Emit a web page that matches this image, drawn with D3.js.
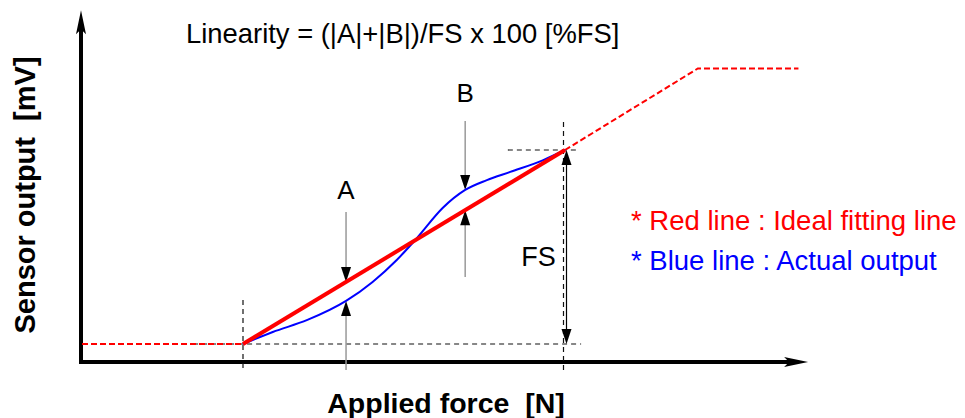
<!DOCTYPE html>
<html>
<head>
<meta charset="utf-8">
<script src="https://cdn.jsdelivr.net/npm/d3@7"></script>
<style>
  body { margin: 0; background: #fff; }
  text { font-family: "Liberation Sans", Arial, sans-serif; white-space: pre; }
</style>
</head>
<body>
<div id="chart"></div>
<script>
// force in arbitrary units, output in mV (FS = 10)
var idealX = [2, 6];
var idealY = [0, 10];
var actualX = [2, 2.37, 2.80, 3.28, 3.61, 3.91, 4.16, 4.48, 4.76, 5.03, 5.32, 5.73, 6];
var actualY = [0, 0.62, 1.24, 2.22, 3.20, 4.33, 5.46, 7.01, 7.94, 8.45, 8.87, 9.48, 10];
var belowX = [0, 2], belowY = [0, 0];
var aboveX = [6, 7.65, 8.9], aboveY = [10, 14.2, 14.2];
var axisXEnd = 9.02, axisYEnd = 17.2, axisFloor = -0.93;
var errIdx = [3, 8];                 // A and B, taken at these actual points
var errLabels = ["A", "B"];
var errLabelY = [7.5, 12.45];
var titleText = "Linearity = (|A|+|B|)/FS x 100 [%FS]";
var legendLabels = ["* Red line : Ideal fitting line", "* Blue line : Actual output"];
var legendColors = ["#ff0000", "#0000ff"];

var W = 965, H = 418;
var svg = d3.select("#chart").append("svg").attr("width", W).attr("height", H);

var x = d3.scaleLinear().domain([0, 10]).range([82, 887]);
var y = d3.scaleLinear().domain([0, 10]).range([344, 150]);

function pts(xs, ys) { return xs.map(function (v, i) { return [x(v), y(ys[i])]; }); }
var line = d3.line();
var idealAt = d3.scaleLinear().domain(idealX).range(idealY);

function head(tx, ty, dir, w, l) {
  // dir: 1 = pointing down, -1 = pointing up
  svg.append("path")
     .attr("d", "M" + tx + "," + ty + "L" + (tx - w / 2) + "," + (ty - dir * l) +
                "L" + (tx + w / 2) + "," + (ty - dir * l) + "Z")
     .style("fill", "black");
}

// AXES
var x0 = x(0) - 1, yb = y(axisFloor), yt = y(axisYEnd), xr = x(axisXEnd);
svg.append("line").attr("x1", x0).attr("x2", x0).attr("y1", yb + 2).attr("y2", yt + 16)
   .style("stroke", "black").style("stroke-width", 4);
svg.append("line").attr("x1", x0 - 2).attr("x2", xr - 16).attr("y1", yb).attr("y2", yb)
   .style("stroke", "black").style("stroke-width", 4);
svg.append("path")
   .attr("d", "M" + x0 + "," + yt + "L" + (x0 - 5) + "," + (yt + 24) + "L" + x0 + "," + (yt + 19) +
              "L" + (x0 + 5) + "," + (yt + 24) + "Z").style("fill", "black");
svg.append("path")
   .attr("d", "M" + xr + "," + yb + "L" + (xr - 24) + "," + (yb - 5) + "L" + (xr - 19) + "," + yb +
              "L" + (xr - 24) + "," + (yb + 5) + "Z").style("fill", "black");

// GUIDE LINES (black dashed)
var guide = [
  [[x(2), y(2.27)], [x(2), y(-1.34)]],
  [[x(6) - 1.5, y(11.44)], [x(6) - 1.5, y(-1.34)]],
  [[x(1.38), y(0)], [x(6.2), y(0)]],
  [[x(5.29), y(10)], [x(6.16), y(10)]]
];
guide.forEach(function (g) {
  svg.append("path").attr("d", line(g)).style("fill", "none")
     .style("stroke", "#111").style("stroke-width", 1.2).style("stroke-dasharray", "5,4");
});

// RED DASHED EXTENSIONS
[pts(belowX, belowY), pts(aboveX, aboveY)].forEach(function (p) {
  svg.append("path").attr("d", line(p)).style("fill", "none")
     .style("stroke", "#ff0000").style("stroke-width", 2).style("stroke-dasharray", "6,3");
});

// ERROR MARKERS A / B
errIdx.forEach(function (k, i) {
  var fx = x(actualX[k]);
  var yIdeal = y(idealAt(actualX[k])), yAct = y(actualY[k]);
  var top = Math.min(yIdeal, yAct), bot = Math.max(yIdeal, yAct);
  var stemTop = i === 0 ? y(6.8) : y(11.5);
  var stemBot = i === 0 ? y(-1.34) : y(3.45);
  svg.append("line").attr("x1", fx).attr("x2", fx).attr("y1", stemTop).attr("y2", top - 10)
     .style("stroke", "#999").style("stroke-width", 1.5);
  svg.append("line").attr("x1", fx).attr("x2", fx).attr("y1", bot + 10).attr("y2", stemBot)
     .style("stroke", "#999").style("stroke-width", 1.5);
  head(fx, top, 1, 10, 15);
  head(fx, bot, -1, 10, 15);
  svg.append("text").attr("x", fx).attr("y", y(errLabelY[i]))
     .style("text-anchor", "middle").style("font-size", "26px").text(errLabels[i]);
});

// FS ARROW
var fsx = x(6) + 1.5;
svg.append("line").attr("x1", fsx).attr("x2", fsx).attr("y1", y(10) + 12).attr("y2", y(0) - 12)
   .style("stroke", "black").style("stroke-width", 1.2);
head(fsx, y(10), -1, 10, 15);
head(fsx, y(0), 1, 10, 15);
svg.append("text").attr("x", fsx - 28).attr("y", y(4.0))
   .style("text-anchor", "middle").style("font-size", "27px").text("FS");

// CURVES
svg.append("path").attr("d", d3.line().curve(d3.curveMonotoneX)(pts(actualX, actualY)))
   .style("fill", "none").style("stroke", "#0000ff").style("stroke-width", 2);
svg.append("path").attr("d", line(pts(idealX, idealY)))
   .style("fill", "none").style("stroke", "#ff0000").style("stroke-width", 4);

// TEXT
svg.append("text").attr("x", 186).attr("y", 43).style("font-size", "27.4px").text(titleText);
legendLabels.forEach(function (t, i) {
  svg.append("text").attr("x", 631).attr("y", 230 + i * 40)
     .style("font-size", "27.5px").style("fill", legendColors[i]).text(t);
});
svg.append("text").attr("x", 446).attr("y", 413).style("text-anchor", "middle")
   .style("font-size", "28.5px").style("font-weight", "bold").text("Applied force  [N]");
svg.append("text").attr("transform", "translate(35,195) rotate(-90)").style("text-anchor", "middle")
   .style("font-size", "29px").style("font-weight", "bold").text("Sensor output  [mV]");
</script>
</body>
</html>
